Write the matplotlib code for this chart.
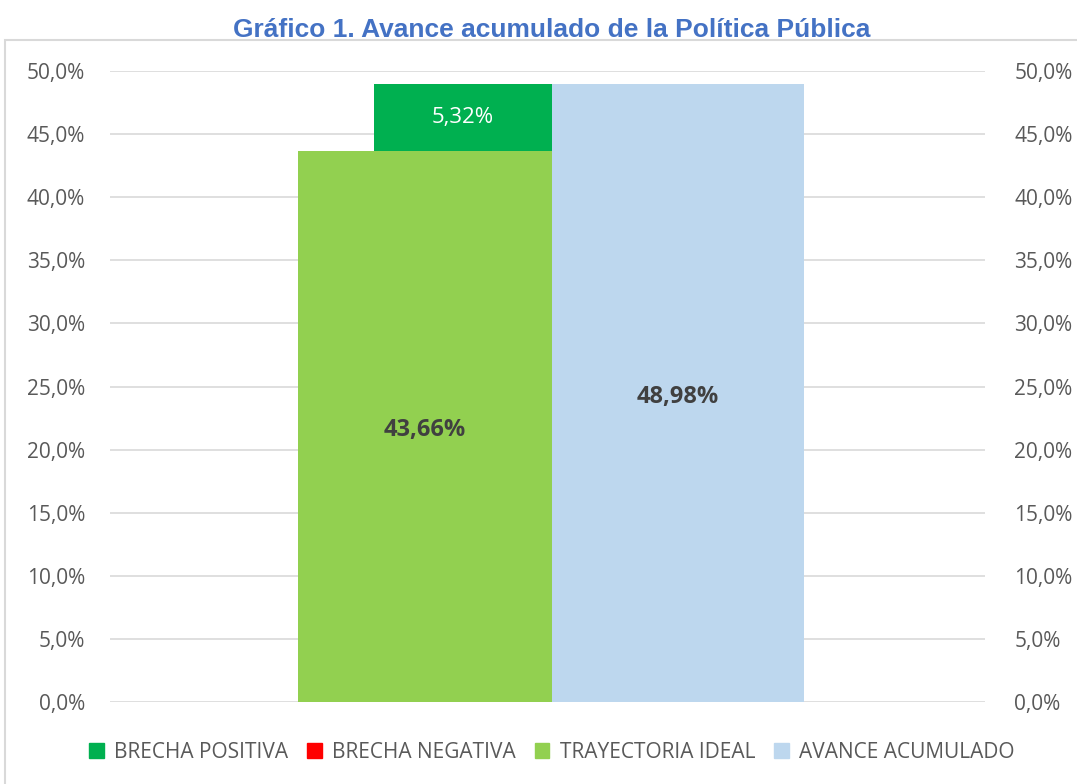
import matplotlib.pyplot as plt
from matplotlib.patches import Rectangle

# datos
series = ["BRECHA POSITIVA", "BRECHA NEGATIVA", "TRAYECTORIA IDEAL", "AVANCE ACUMULADO"]
colores = ["#00B050", "#FF0000", "#92D050", "#BDD7EE"]
trayectoria = 43.66
avance = 48.98
brecha_pos = 5.32
brecha_neg = 0.0
yticks = [0, 5, 10, 15, 20, 25, 30, 35, 40, 45, 50]

plt.rcParams['font.family'] = ['Open Sans', 'DejaVu Sans']
gris = "#595959"

fig = plt.figure(figsize=(10.77, 7.84), dpi=100)
# marco del grafico
fig.patches.append(Rectangle((5 / 1077, -0.1), 1.2, (784 - 40) / 784 + 0.1,
                             transform=fig.transFigure, fill=False,
                             edgecolor="#D9D9D9", linewidth=1.5))

ax = fig.add_axes([110 / 1077, (784 - 702) / 784, 875 / 1077, (702 - 71) / 784])
ax.set_xlim(0, 1)
ax.set_ylim(0, 50)

# barras (posiciones de layout)
ax.bar(0.2149, trayectoria, width=0.2903, align="edge", color=colores[2], zorder=2)
ax.bar(0.3017, brecha_pos, bottom=trayectoria, width=0.2034, align="edge", color=colores[0], zorder=2)
ax.bar(0.3017, brecha_neg, bottom=trayectoria, width=0.2034, align="edge", color=colores[1], zorder=2)
ax.bar(0.5051, avance, width=0.288, align="edge", color=colores[3], zorder=2)

fmt = lambda v: ("%.2f%%" % v).replace(".", ",")
ax.text(0.2149 + 0.2903 / 2, trayectoria / 2 - 0.3, fmt(trayectoria), ha="center", va="center",
        fontsize=17, fontweight="bold", color="#404040", zorder=3)
ax.text(0.5051 + 0.288 / 2, avance / 2 - 0.3, fmt(avance), ha="center", va="center",
        fontsize=17, fontweight="bold", color="#404040", zorder=3)
ax.text(0.3017 + 0.2034 / 2, trayectoria + brecha_pos / 2, fmt(brecha_pos), ha="center",
        va="center", fontsize=16, color="white", zorder=3)

# ejes
ax.set_yticks(yticks)
ax.set_yticklabels([("%.1f%%" % t).replace(".", ",") for t in yticks])
ax.set_xticks([])
ax.grid(axis="y", color="#D9D9D9", linewidth=1.2, zorder=0)
for s in ax.spines.values():
    s.set_visible(False)
ax.tick_params(axis="y", length=0, labelsize=15, labelcolor=gris, pad=18)

ax2 = ax.twinx()
ax2.set_ylim(0, 50)
ax2.set_yticks(yticks)
ax2.set_yticklabels([("%.1f%%" % t).replace(".", ",") for t in yticks])
for s in ax2.spines.values():
    s.set_visible(False)
ax2.tick_params(axis="y", length=0, labelsize=15, labelcolor=gris, pad=21)

fig.text(552 / 1077, 1 - 30 / 784, "Gráfico 1. Avance acumulado de la Política Pública",
         ha="center", va="center", fontsize=19, fontweight="bold", color="#4472C4",
         family="Liberation Sans")

# leyenda
handles = [Rectangle((0, 0), 1, 1, color=c) for c in colores]
fig.legend(handles, series, loc="center", bbox_to_anchor=(552 / 1077, 1 - 752 / 784),
           ncol=4, frameon=False, fontsize=15, labelcolor=gris,
           handlelength=0.7, handleheight=0.7, handletextpad=0.5, columnspacing=0.9)

fig.savefig("out.png", dpi=100)
